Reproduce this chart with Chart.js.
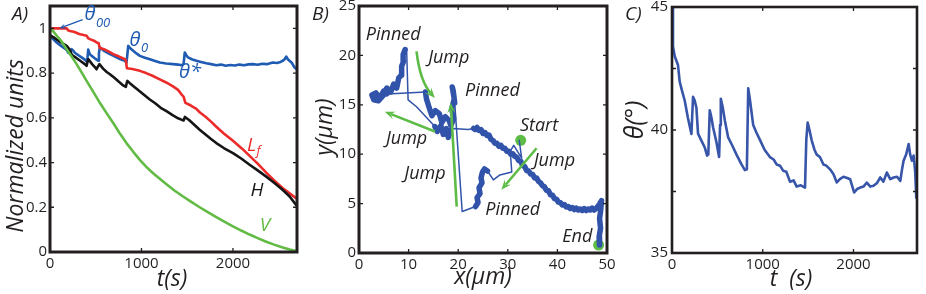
<!DOCTYPE html>
<html><head><meta charset="utf-8">
<script src="https://cdn.jsdelivr.net/npm/chart.js@4.4.1/dist/chart.umd.min.js"></script>
<style>
html,body{margin:0;padding:0;background:#fff;}
#wrap{position:relative;width:926px;height:294px;overflow:hidden;background:#fff;}
.pane{position:absolute;top:0;height:294px;}
canvas{display:block;}
</style></head><body>
<div id="wrap">
<div class="pane" style="left:0;width:310px"><canvas id="cA" width="310" height="294"></canvas></div>
<div class="pane" style="left:310px;width:310px"><canvas id="cB" width="310" height="294"></canvas></div>
<div class="pane" style="left:620px;width:306px"><canvas id="cC" width="306" height="294"></canvas></div>
</div>
<script>
// ---------------- Panel A data ----------------
const aXTicks = [0, 1000, 2000];
const aXLabels = ['0', '1000', '2000'];
const aYTicks = [0, 0.2, 0.4, 0.6, 0.8, 1];
const aYLabels = ['0', '0.2', '0.4', '0.6', '0.8', '1'];

const tThetaA = [0,40,73,110,145,180,200,215,236,255,273,310,345,380,400,410,418,435,455,490,527,535,545,560,582,620,655,690,727,770,818,836,845,855,880,909,945,982,1030,1091,1140,1200,1270,1345,1400,1436,1460,1473,1490,1509,1550,1600,1650,1709,1760,1818,1870,1920,1970,2020,2070,2120,2170,2218,2270,2320,2370,2436,2480,2520,2545,2565,2582,2600,2618,2645,2673,2690];
const thetaA = [0.965,0.95,0.937,0.925,0.915,0.905,0.89,0.895,0.907,0.9,0.89,0.88,0.87,0.86,0.852,0.87,0.905,0.885,0.877,0.866,0.855,0.89,0.915,0.91,0.902,0.893,0.885,0.878,0.87,0.862,0.855,0.847,0.88,0.922,0.91,0.9,0.888,0.877,0.87,0.862,0.855,0.847,0.843,0.84,0.838,0.835,0.84,0.892,0.88,0.87,0.862,0.855,0.85,0.844,0.84,0.835,0.838,0.833,0.836,0.834,0.838,0.835,0.839,0.84,0.837,0.842,0.84,0.847,0.845,0.85,0.855,0.862,0.874,0.862,0.855,0.845,0.825,0.82];

const tLfA = [0,100,182,200,218,260,320,400,420,436,480,509,530,545,600,650,691,750,818,830,840,900,982,1050,1120,1200,1270,1340,1400,1436,1460,1480,1540,1600,1636,1700,1760,1818,1900,2000,2100,2182,2270,2364,2450,2545,2620,2690];
const lfA = [1.0,1.0,1.0,0.99,0.988,0.985,0.975,0.967,0.955,0.952,0.945,0.937,0.935,0.912,0.905,0.895,0.885,0.875,0.862,0.858,0.822,0.818,0.81,0.8,0.788,0.772,0.758,0.742,0.725,0.705,0.695,0.667,0.655,0.64,0.625,0.605,0.583,0.56,0.53,0.497,0.462,0.43,0.395,0.355,0.32,0.285,0.262,0.24];

const tHA = [0,40,73,120,182,215,225,240,280,330,380,400,410,420,460,500,509,525,540,580,620,655,700,750,800,829,838,846,880,909,960,1020,1091,1150,1210,1273,1340,1400,1436,1460,1475,1520,1580,1636,1700,1760,1818,1900,2000,2090,2182,2270,2364,2450,2545,2620,2690];
const hA = [0.97,0.96,0.95,0.937,0.922,0.905,0.895,0.88,0.87,0.855,0.84,0.832,0.85,0.862,0.84,0.822,0.817,0.83,0.84,0.82,0.805,0.795,0.78,0.762,0.745,0.738,0.755,0.765,0.752,0.742,0.725,0.705,0.682,0.665,0.645,0.63,0.612,0.598,0.592,0.588,0.604,0.59,0.568,0.547,0.525,0.505,0.487,0.465,0.442,0.418,0.39,0.365,0.337,0.31,0.277,0.248,0.21];

const tVA = [0,40,73,120,182,240,291,350,400,470,545,620,691,760,836,910,982,1050,1127,1200,1273,1360,1455,1540,1636,1720,1818,1910,2000,2090,2182,2270,2364,2450,2545,2620,2690];
const vA = [1.0,0.985,0.967,0.945,0.907,0.872,0.84,0.8,0.765,0.718,0.667,0.62,0.577,0.532,0.487,0.448,0.412,0.382,0.352,0.327,0.303,0.275,0.248,0.225,0.2,0.179,0.156,0.135,0.115,0.096,0.078,0.062,0.046,0.033,0.02,0.011,0.004];

// ---------------- Panel B data ----------------
const bXTicks = [0, 10, 20, 30, 40, 50];
const bXLabels = ['0', '10', '20', '30', '40', '50'];
const bYTicks = [0, 5, 10, 15, 20, 25];
const bYLabels = ['0', '5', '10', '15', '20', '25'];

// contact-line trajectory, from Start to End
const pathX = [
  32.3,32.8,31.2,30.5,30.8,28.4,27.1,
  25.9,25.3,24.9,24.6,24.8,24.2,24.4,23.8,24.0,
  23.5,20.8,
  19.3,19.0,18.8,19.2,18.7,19.1,18.5,18.2,17.4,16.7,16.2,15.4,14.7,14.1,13.6,
  13.4,
  5.6,5.0,4.2,3.4,2.6,3.0,3.9,4.8,5.6,6.4,7.0,7.6,8.0,8.5,8.6,9.0,8.9,
  9.3,9.6,9.9,11.6,
  15.3,15.8,16.5,17.0,17.6,18.0,
  18.4,19.0,22.0,
  23.1,23.4,23.8,24.2,24.6,25.0,25.4,25.8,26.2,26.6,27.0,27.4,27.8,28.2,28.6,29.0,29.4,29.8,30.2,30.6,31.0,
  31.4,31.8,32.2,32.6,33.0,33.4,33.8,34.2,34.6,35.0,35.4,35.8,36.2,36.6,37.0,37.4,37.8,38.2,38.6,39.0,
  39.4,39.8,40.2,40.6,41.0,41.4,41.8,42.2,42.6,43.0,43.4,43.8,44.2,44.6,45.0,45.4,45.8,46.2,46.6,47.0,
  47.4,47.8,48.3,48.9,48.7,48.5,48.7,48.4,48.5];
const pathY = [
  11.4,9.6,10.9,10.3,8.2,7.9,7.4,
  8.3,8.5,8.2,7.6,7.1,6.6,6.0,5.6,5.1,
  4.7,4.2,
  15.2,16.4,16.8,15.6,14.6,13.6,12.9,13.4,13.8,13.2,14.1,14.4,13.9,14.8,15.6,
  16.3,
  16.1,16.4,15.7,16.2,16.0,15.5,15.4,15.9,16.7,16.3,17.1,16.7,17.7,18.0,18.9,19.4,20.1,
  20.6,20.6,15.5,14.8,
  12.8,12.3,12.9,12.0,12.6,11.7,
  12.4,12.6,12.5,
  12.6,12.5,12.7,12.4,12.5,12.1,12.2,11.9,11.95,11.5,11.4,11.1,11.1,10.8,10.9,10.6,10.6,10.3,10.3,10.0,10.05,
  9.8,9.7,9.35,9.3,8.85,8.75,8.35,8.3,8.0,7.95,7.6,7.6,7.25,7.1,6.8,6.7,6.35,6.3,5.9,5.85,
  5.5,5.45,5.15,5.1,4.85,4.9,4.65,4.7,4.5,4.6,4.4,4.55,4.35,4.45,4.3,4.5,4.3,4.45,4.35,4.55,
  4.35,4.5,4.8,5.3,4.2,3.5,2.5,1.6,0.8];
// runs of [slow (1 = pinned, thick trace) or fast jump (0, thin trace), number of points]
const pathRuns = [[0,7],[1,9],[0,2],[1,15],[0,1],[1,17],[0,4],[1,6],[0,3],[1,70]];
const markX = [32.6, 48.3];
const markY = [11.4, 0.8];
// jump arrows: start, end, optional bend (control point)
const arrowFromX = [11.6, 15.3, 19.7, 35.8];
const arrowFromY = [20.4, 12.3, 4.7, 10.6];
const arrowToX = [15.3, 5.2, 18.5, 28.7];
const arrowToY = [15.7, 14.3, 15.2, 6.4];
const arrowBendX = [12.3, null, null, null];
const arrowBendY = [17.4, null, null, null];
const bTexts = ['Pinned','Jump','Pinned','Start','Jump','Jump','Jump','Pinned','End'];
const bTextX = [6.9, 18.1, 26.9, 36.3, 9.6, 39.4, 13.3, 31.0, 44.0];
const bTextY = [22.1, 19.8, 16.4, 12.85, 11.6, 9.3, 8.0, 4.35, 1.6];

// ---------------- Panel C data ----------------
const cXTicks = [0, 1000, 2000];
const cXLabels = ['0', '1000', '2000'];
const cYTicks = [35, 37.5, 40, 42.5, 45];
const cYLabels = ['35', '', '40', '', '45'];
const tC = [0,11,30,66,85,110,140,175,214,232,250,269,287,324,360,387,400,416,435,453,490,519,530,538,560,582,619,660,711,766,803,825,840,860,895,930,969,1020,1079,1120,1153,1190,1226,1260,1300,1340,1374,1420,1466,1480,1495,1515,1540,1570,1595,1630,1669,1700,1742,1780,1816,1850,1890,1930,1963,2007,2040,2074,2110,2147,2185,2221,2260,2295,2330,2368,2405,2442,2480,2516,2535,2552,2580,2608,2625,2644,2663,2680,2692];
const thetaC = [45,43.4,43.0,42.64,41.96,41.6,41.2,40.5,39.84,41.35,41.2,40.9,39.85,39.57,39.3,38.96,39.0,40.8,40.5,40.1,39.5,38.9,40.2,41.27,40.9,40.4,39.7,39.4,39.0,38.6,38.37,38.4,41.7,41.2,40.2,39.9,39.6,39.2,38.9,38.8,38.6,38.55,38.34,38.3,37.9,37.95,37.7,37.75,37.66,39.6,40.3,40.0,39.57,39.2,39.0,38.9,38.6,38.55,38.4,38.2,37.87,38.0,38.1,38.05,38.0,37.46,37.6,37.66,37.7,37.86,37.7,37.73,37.85,38.07,37.9,38.27,38.0,38.07,38.1,37.93,38.4,38.75,39.0,39.43,39.0,38.75,38.96,38.3,37.25];

// ---------------- helpers ----------------
const FONT = '"Open Sans", "Noto Sans", "DejaVu Sans", sans-serif';
const TXT = '#231f20';
const pts = (xs, ys) => xs.map((x, i) => ({x: x, y: ys[i]}));
const pathSlow = [].concat(...pathRuns.map(r => Array(r[1]).fill(r[0])));

function axis(opts) {
  const horiz = opts.horiz;
  return {
    type: 'linear', min: opts.min, max: opts.max,
    grid: {display: false, drawTicks: false},
    border: {display: false},
    ticks: {
      font: {family: FONT, size: 15}, color: TXT, padding: opts.pad,
      maxRotation: 0, autoSkip: false,
      callback: (v, i) => opts.labels[i]
    },
    afterBuildTicks: s => { s.ticks = opts.ticks.map(v => ({value: v})); },
    afterFit: s => {
      if (horiz) s.height = opts.size; else s.width = opts.size;
      s.paddingTop = 0; s.paddingBottom = 0; s.paddingLeft = 0; s.paddingRight = 0;
    }
  };
}

function txt(ctx, s, x, y, size, color, align, style) {
  ctx.font = (style || 'italic') + ' ' + size + 'px ' + FONT;
  ctx.fillStyle = color; ctx.textAlign = align || 'center'; ctx.textBaseline = 'middle';
  ctx.fillText(s, x, y);
}
function txtSub(ctx, main, sub, x, y, size, subSize, dy, color) {
  ctx.font = 'italic ' + size + 'px ' + FONT;
  const w = ctx.measureText(main).width;
  txt(ctx, main, x, y, size, color, 'center');
  txt(ctx, sub, x + w / 2 + 0.5, y + dy, subSize, color, 'left');
}
function vtxt(ctx, s, x, y, size) {
  ctx.save(); ctx.translate(x, y); ctx.rotate(-Math.PI / 2);
  txt(ctx, s, 0, 0, size, TXT, 'center'); ctx.restore();
}
function arrow(ctx, x1, y1, x2, y2, cx, cy, color, w, head) {
  ctx.save();
  ctx.strokeStyle = color; ctx.fillStyle = color; ctx.lineWidth = w; ctx.lineCap = 'butt';
  let ang;
  if (cx != null) ang = Math.atan2(y2 - cy, x2 - cx); else ang = Math.atan2(y2 - y1, x2 - x1);
  const ex = x2 - head * 0.6 * Math.cos(ang), ey = y2 - head * 0.6 * Math.sin(ang);
  ctx.beginPath(); ctx.moveTo(x1, y1);
  if (cx != null) ctx.quadraticCurveTo(cx, cy, ex, ey); else ctx.lineTo(ex, ey);
  ctx.stroke();
  ctx.beginPath(); ctx.moveTo(x2, y2);
  ctx.lineTo(x2 - head * Math.cos(ang - 0.38), y2 - head * Math.sin(ang - 0.38));
  ctx.lineTo(x2 - head * 0.55 * Math.cos(ang), y2 - head * 0.55 * Math.sin(ang));
  ctx.lineTo(x2 - head * Math.cos(ang + 0.38), y2 - head * Math.sin(ang + 0.38));
  ctx.closePath(); ctx.fill();
  ctx.restore();
}

function framePlugin(name, xTicks, yTicks, frameW, extra) {
  return {
    id: 'frame' + name,
    afterDatasetsDraw(chart) {
      const ctx = chart.ctx, a = chart.chartArea, x = chart.scales.x, y = chart.scales.y;
      ctx.save();
      ctx.strokeStyle = TXT; ctx.lineWidth = 1.3;
      ctx.beginPath();
      xTicks.forEach(v => {
        const p = x.getPixelForValue(v);
        if (p <= a.left + 2 || p >= a.right - 2) return;
        ctx.moveTo(p, a.bottom); ctx.lineTo(p, a.bottom - 4);
        ctx.moveTo(p, a.top); ctx.lineTo(p, a.top + 4);
      });
      yTicks.forEach(v => {
        const p = y.getPixelForValue(v);
        if (p <= a.top + 2 || p >= a.bottom - 2) return;
        ctx.moveTo(a.left, p); ctx.lineTo(a.left + 4, p);
        ctx.moveTo(a.right, p); ctx.lineTo(a.right - 4, p);
      });
      ctx.stroke();
      ctx.lineWidth = frameW; ctx.strokeStyle = TXT;
      ctx.strokeRect(a.left, a.top, a.right - a.left, a.bottom - a.top);
      extra(ctx, x, y, a);
      ctx.restore();
    }
  };
}

const common = {
  responsive: false, animation: false,
  plugins: {legend: {display: false}, tooltip: {enabled: false}},
  elements: {point: {radius: 0}, line: {tension: 0, borderJoinStyle: 'round', borderCapStyle: 'round'}}
};

// ---------------- Chart A ----------------
const BLUE_A = '#1f5bb3', RED_A = '#ec2b2b', BLACK_A = '#151515', GREEN_A = '#62bb45';
new Chart(document.getElementById('cA'), {
  type: 'line',
  data: {datasets: [
    {data: pts(tVA, vA), borderColor: GREEN_A, borderWidth: 2.6},
    {data: pts(tHA, hA), borderColor: BLACK_A, borderWidth: 2.6},
    {data: pts(tLfA, lfA), borderColor: RED_A, borderWidth: 2.6},
    {data: pts(tThetaA, thetaA), borderColor: BLUE_A, borderWidth: 2.6}
  ]},
  options: Object.assign({}, common, {
    layout: {padding: {left: 0, right: 13, top: 6, bottom: 0}},
    scales: {
      x: axis({horiz: true, min: 0, max: 2700, ticks: aXTicks, labels: aXLabels, size: 42, pad: 3}),
      y: axis({horiz: false, min: 0, max: 1.1, ticks: aYTicks, labels: aYLabels, size: 50, pad: 3})
    }
  }),
  plugins: [framePlugin('A', aXTicks, aYTicks, 3, (ctx, x, y, a) => {
    const X = v => x.getPixelForValue(v), Y = v => y.getPixelForValue(v);
    arrow(ctx, X(357), Y(1.039), X(102), Y(1.0), null, null, BLUE_A, 1.3, 7);
    txtSub(ctx, 'θ', '00', X(437), Y(1.064), 20, 13, 9, BLUE_A);
    txtSub(ctx, 'θ', '0', X(929), Y(0.945), 20, 13, 8, BLUE_A);
    txt(ctx, 'θ*', X(1530), Y(0.803), 20, BLUE_A);
    txtSub(ctx, 'L', 'f', X(2202), Y(0.475), 19, 13, 6, RED_A);
    txt(ctx, 'H', X(2262), Y(0.275), 19, BLACK_A);
    txt(ctx, 'V', X(2350), Y(0.12), 19, GREEN_A);
    txt(ctx, 'A)', 12, 15, 19, TXT, 'left');
    vtxt(ctx, 'Normalized units', 16, 146, 23);
    txt(ctx, 't(s)', 172, 279, 23, TXT);
  })]
});

// ---------------- Chart B ----------------
const BLUE_B = '#3253aa', GREEN_B = '#5dbc46';
new Chart(document.getElementById('cB'), {
  type: 'line',
  data: {datasets: [
    {data: pts(pathX, pathY), borderColor: BLUE_B, borderWidth: 1.5,
     segment: {borderWidth: c => pathSlow[c.p0DataIndex] ? 5.5 : 1.5}},
    {data: pts(markX, markY), showLine: false, pointRadius: 5.5, pointBackgroundColor: GREEN_B, pointBorderWidth: 0, borderColor: GREEN_B}
  ]},
  options: Object.assign({}, common, {
    layout: {padding: {left: 0, right: 13, top: 6, bottom: 0}},
    scales: {
      x: axis({horiz: true, min: 0, max: 50, ticks: bXTicks, labels: bXLabels, size: 41, pad: 3}),
      y: axis({horiz: false, min: 0, max: 25, ticks: bYTicks, labels: bYLabels, size: 49, pad: 3})
    }
  }),
  plugins: [framePlugin('B', bXTicks, bYTicks, 3, (ctx, x, y, a) => {
    const X = v => x.getPixelForValue(v), Y = v => y.getPixelForValue(v);
    for (let i = 0; i < arrowFromX.length; i++) {
      const bx = arrowBendX[i] == null ? null : X(arrowBendX[i]);
      const by = arrowBendY[i] == null ? null : Y(arrowBendY[i]);
      arrow(ctx, X(arrowFromX[i]), Y(arrowFromY[i]), X(arrowToX[i]), Y(arrowToY[i]), bx, by, GREEN_B, 2.6, 11);
    }
    for (let i = 0; i < bTexts.length; i++) txt(ctx, bTexts[i], X(bTextX[i]), Y(bTextY[i]), 18, TXT);
    txt(ctx, 'B)', 2, 15, 19, TXT, 'left');
    vtxt(ctx, 'y(µm)', 15, 127, 23);
    txt(ctx, 'x(µm)', 173, 277, 23, TXT);
  })]
});

// ---------------- Chart C ----------------
const BLUE_C = '#3755a9';
new Chart(document.getElementById('cC'), {
  type: 'line',
  data: {datasets: [
    {data: pts(tC, thetaC), borderColor: BLUE_C, borderWidth: 2.6}
  ]},
  options: Object.assign({}, common, {
    layout: {padding: {left: 0, right: 9, top: 7, bottom: 0}},
    scales: {
      x: axis({horiz: true, min: 0, max: 2700, ticks: cXTicks, labels: cXLabels, size: 41, pad: 3}),
      y: axis({horiz: false, min: 35, max: 45, ticks: cYTicks, labels: cYLabels, size: 52, pad: 4})
    }
  }),
  plugins: [framePlugin('C', cXTicks, cYTicks, 2.6, (ctx, x, y, a) => {
    txt(ctx, 'C)', 5, 15, 19, TXT, 'left');
    vtxt(ctx, 'θ(°)', 16, 120, 25);
    txt(ctx, 't  (s)', 171, 279, 23, TXT);
  })]
});
</script>
</body></html>
